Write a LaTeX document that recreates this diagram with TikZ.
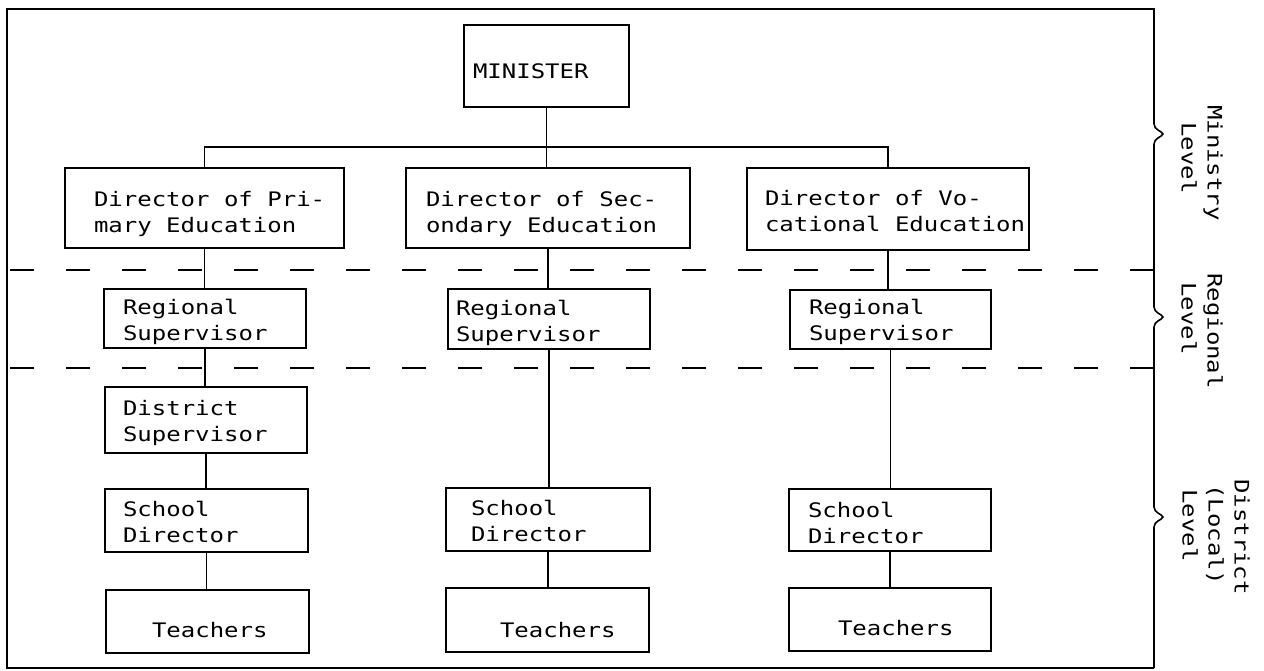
\documentclass[tikz,border=0pt]{standalone}
\usepackage{fontspec}
\newfontfamily\tw[FakeStretch=1.2]{DejaVu Sans Mono}
% #1 box width, #2 text inset, #3 downward shift, #4 lines
\newcommand\bxt[4]{\raisebox{-#3pt}[\height][\depth]{\makebox[#1pt][l]{\begin{tabular}{@{\hspace{#2pt}}l@{}}#4\end{tabular}}}}
\begin{document}
\begin{tikzpicture}[x=1pt,y=-1pt,
  font={\tw\fontsize{20}{26}\selectfont},
  orgbox/.style={draw, rectangle, line width=1.4pt, inner sep=0pt},
  link/.style={line width=1.6pt},
  frameline/.style={line width=1.6pt, line join=miter},
  levelsep/.style={line width=1.4pt, dash pattern=on 24pt off 32pt},
  lvl/.style={rotate=-90, align=left, inner sep=0pt}]
\useasboundingbox (0,0) rectangle (1264,670);

% frame corners
\coordinate (tl) at (7,9);
\coordinate (tr) at (1154,9);
\coordinate (bl) at (7,668);
\coordinate (br) at (1154,668);

% boxes
\node[orgbox, minimum width=165pt, minimum height=82pt] (min) at (546.5,66) {\bxt{165}{9}{7}{MINISTER}};
\node[orgbox, minimum width=279pt, minimum height=80pt] (dp) at (204.5,208) {\bxt{279}{29}{6}{Director of Pri-\\mary Education}};
\node[orgbox, minimum width=284pt, minimum height=80pt] (ds) at (548,208) {\bxt{284}{20}{6}{Director of Sec-\\ondary Education}};
\node[orgbox, minimum width=282pt, minimum height=82pt] (dv) at (888,209) {\bxt{282}{18}{4}{Director of Vo-\\cational Education}};

\node[orgbox, minimum width=202pt, minimum height=59pt] (rp) at (205,318.5) {\bxt{202}{19}{4}{Regional\\Supervisor}};
\node[orgbox, minimum width=202pt, minimum height=60pt] (rs) at (549,319) {\bxt{202}{8}{4}{Regional\\Supervisor}};
\node[orgbox, minimum width=201pt, minimum height=59pt] (rv) at (890.5,319.5) {\bxt{201}{19}{3}{Regional\\Supervisor}};

\node[orgbox, minimum width=202pt, minimum height=66pt] (dsp) at (206,420) {\bxt{202}{18}{3.5}{District\\Supervisor}};

\node[orgbox, minimum width=203pt, minimum height=63pt] (sp) at (206.5,520.5) {\bxt{203}{18}{3.5}{School\\Director}};
\node[orgbox, minimum width=204pt, minimum height=63pt] (ss) at (548,519.5) {\bxt{204}{25}{4}{School\\Director}};
\node[orgbox, minimum width=202pt, minimum height=62pt] (sv) at (890,520) {\bxt{202}{19}{5}{School\\Director}};

\node[orgbox, minimum width=203pt, minimum height=63pt] (tp) at (207.5,621.5) {\bxt{203}{46}{11}{Teachers}};
\node[orgbox, minimum width=203pt, minimum height=64pt] (ts) at (547.5,620) {\bxt{203}{54}{12}{Teachers}};
\node[orgbox, minimum width=202pt, minimum height=63pt] (tv) at (890,619.5) {\bxt{202}{49}{11}{Teachers}};

% connectors
\coordinate (bar) at (547,147);
\draw[link] (min.south) -- (min.south |- ds.north);
\draw[link] (dp.north) |- (bar) -| (dv.north);
\draw[link] (dp.south) -- (dp.south |- rp.north);
\draw[link] (ds.south) -- (ds.south |- rs.north);
\draw[link] (dv.south) -- (dv.south |- rv.north);
\draw[link] (rp.south) -- (rp.south |- dsp.north);
\draw[link] (dsp.south) -- (dsp.south |- sp.north);
\draw[link] (sp.south) -- (sp.south |- tp.north);
\draw[link] (rs.south) -- (rs.south |- ss.north);
\draw[link] (ss.south) -- (ss.south |- ts.north);
\draw[link] (rv.south) -- (rv.south |- sv.north);
\draw[link] (sv.south) -- (sv.south |- tv.north);

% level separators
\draw[levelsep] (1154,270) -- (7,270);
\draw[levelsep] (1154,368) -- (7,368);

% frame with braces on the right side
\draw[frameline] (br) -- (bl) -- (tl) -- (tr)
  -- (1154,124) .. controls (1154,130) and (1162,131) .. (1163,134)
  .. controls (1162,137) and (1154,138) .. (1154,144)
  -- (1154,307) .. controls (1154,313) and (1162,314) .. (1163,317)
  .. controls (1162,320) and (1154,321) .. (1154,327)
  -- (1154,507) .. controls (1154,513) and (1162,514) .. (1163,517)
  .. controls (1162,520) and (1154,521) .. (1154,527)
  -- (br);

% level labels
\node[lvl] (lmin) at (1202,163) {Ministry\\\hspace*{17pt}Level};
\node[lvl] (lreg) at (1202,331) {Regional\\\hspace*{9pt}Level};
\node[lvl] (ldis) at (1216,537) {District\\\hspace*{5pt}(Local)\\\hspace*{10pt}Level};
\end{tikzpicture}
\end{document}
